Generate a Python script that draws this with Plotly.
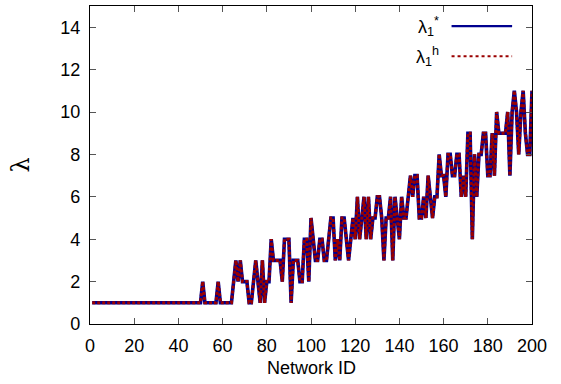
import plotly.graph_objects as go

# Network IDs 1..200 and the leading eigenvalue of each network
network_id = list(range(1, 201))

lambda_star = (
    [1] * 50 + [2] + [1] * 6 + [2] + [1] * 6            # 1..64
    + [2, 3, 2, 3, 2, 2, 2, 1, 1, 2, 3, 2, 1, 3, 1, 2]   # 65..80
    + [2, 4, 3, 3, 3, 3, 2, 4, 4, 4, 1, 3, 3, 3, 2, 2]   # 81..96
    + [4, 4, 2, 5, 4, 3, 3, 4, 4, 3, 3, 4, 5, 5, 3, 4]   # 97..112
    + [3, 5, 5, 4, 3, 4, 5, 4, 6, 4, 5, 6, 4, 6, 4, 5]   # 113..128
    + [5, 6, 6, 5, 3, 5, 5, 6, 3, 6, 5, 4, 6, 5, 5, 6]   # 129..144
    + [7, 6, 7, 7, 5, 5, 6, 5, 7, 6, 5, 6, 6, 8, 7, 7]   # 145..160
    + [6, 8, 8, 7, 7, 8, 8, 6, 7, 6, 9, 9, 4, 8, 6, 8]   # 161..176
    + [8, 9, 9, 7, 7, 9, 7, 10, 9, 9, 9, 9, 10, 7, 10, 11]  # 177..192
    + [10, 8, 10, 11, 9, 8, 8, 11]                       # 193..200
)
# heuristic estimate coincides with the optimum on every network
lambda_h = list(lambda_star)

x_ticks = list(range(0, 201, 20))
y_ticks = list(range(0, 15, 2))

FONT = "Liberation Sans, Arial, Helvetica, sans-serif"
BLUE = "#00008f"
RED = "#9a0000"

fig = go.Figure()
fig.add_trace(go.Scatter(
    x=network_id, y=lambda_star, mode="lines",
    line=dict(color=BLUE, width=3.6),
    name="λ1*", showlegend=False,
))
fig.add_trace(go.Scatter(
    x=network_id, y=lambda_h, mode="lines",
    line=dict(color=RED, width=3, dash="3px,2px"),
    name="λ1h", showlegend=False,
))

axis_common = dict(
    showgrid=False, zeroline=False, showline=True, mirror="ticks",
    linecolor="black", linewidth=1.3,
    ticks="inside", ticklen=6, tickwidth=1, tickcolor="#555555",
    tickfont=dict(family=FONT, size=18, color="black"),
    ticklabelstandoff=5,
)

fig.update_layout(
    width=561, height=384,
    margin=dict(l=90, r=29, t=6, b=60),
    paper_bgcolor="white", plot_bgcolor="white",
    xaxis=dict(range=[0, 200], tickvals=x_ticks, **axis_common),
    yaxis=dict(range=[0, 15], tickvals=y_ticks, **axis_common),
    showlegend=False,
)

# axis titles
fig.add_annotation(
    text="Network ID", xref="paper", yref="paper", x=0.5, y=-0.138,
    xanchor="center", yanchor="middle", showarrow=False,
    font=dict(family=FONT, size=18, color="black"),
)
fig.add_annotation(
    text="λ", xref="paper", yref="paper", x=-0.155, y=0.5,
    xanchor="center", yanchor="middle", showarrow=False, textangle=-90,
    font=dict(family="DejaVu Serif, serif", size=24, color="black"),
)

# key in the upper right corner: label on the left, line sample on the right
key = [("λ<sub>1</sub><sup>*</sup>", BLUE, "solid", 2.2, 0.937),
       ("λ<sub>1</sub><sup>h</sup>", RED, "dot", 2.2, 0.842)]
for label, color, dash, width, ypos in key:
    fig.add_annotation(
        text=label, xref="paper", yref="paper", x=0.795, y=ypos,
        xanchor="right", yanchor="middle", showarrow=False,
        font=dict(family=FONT, size=18, color="black"),
    )
    fig.add_shape(
        type="line", xref="paper", yref="paper",
        x0=0.818, x1=0.955, y0=ypos, y1=ypos,
        line=dict(color=color, width=width, dash=dash),
    )

fig.write_html("out.html")
